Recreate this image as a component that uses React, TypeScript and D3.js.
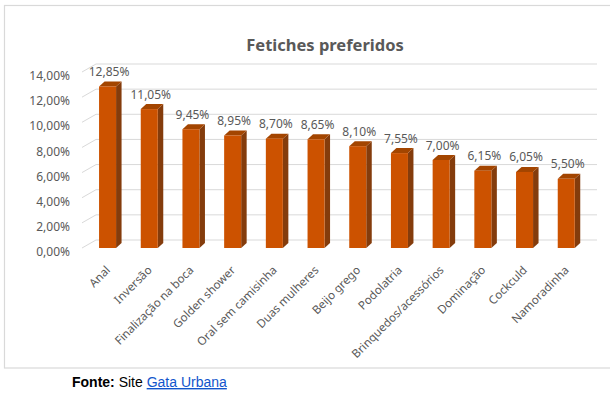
import React from "react";
import * as d3 from "d3";

const categories = [
  "Anal",
  "Inversão",
  "Finalização na boca",
  "Golden shower",
  "Oral sem camisinha",
  "Duas mulheres",
  "Beijo grego",
  "Podolatria",
  "Brinquedos/acessórios",
  "Dominação",
  "Cockculd",
  "Namoradinha",
];
const values = [12.85, 11.05, 9.45, 8.95, 8.7, 8.65, 8.1, 7.55, 7.0, 6.15, 6.05, 5.5];
const yTicks = [0, 2, 4, 6, 8, 10, 12, 14];
const title = "Fetiches preferidos";

const W = 610;
const H = 396;
const fmt = (v: number) => v.toFixed(2).replace(".", ",") + "%";

export default function App() {
  const y = d3.scaleLinear().domain([0, 14]).range([248, 72]);
  const x = d3
    .scaleBand<string>()
    .domain(categories)
    .range([78.2, 595.6])
    .paddingInner(0.592)
    .paddingOuter(0.5);
  const wallDx = 14;
  const wallDy = -8;
  const gridX0 = 82;
  const gridX1 = 597;
  const depthX = 5.5;
  const depthY = -5;
  const bw = x.bandwidth();
  const font = "'Noto Sans', 'Open Sans', sans-serif";
  const textColor = "#595959";

  return (
    <svg
      width={W}
      height={H}
      style={{ position: "fixed", left: 0, top: 0, background: "#fff" }}
    >
      <rect x={4.5} y={5.5} width={620} height={362.5} fill="#fff" stroke="#d9d9d9" strokeWidth={1.2} />
      <text
        x={325}
        y={51}
        textAnchor="middle"
        fontFamily={font}
        fontWeight="bold"
        fontSize={16.5}
        fill={textColor}
      >
        {title}
      </text>
      {yTicks.map((t) => {
        const yf = y(t);
        return (
          <g key={t}>
            <path
              d={`M${gridX0},${yf} L${gridX0 + wallDx},${yf + wallDy} L${gridX1},${yf + wallDy}`}
              fill="none"
              stroke="#d9d9d9"
              strokeWidth={1}
            />
            <text
              x={70}
              y={yf + 4}
              dy="0.35em"
              textAnchor="end"
              fontFamily={font}
              fontSize={12}
              fill={textColor}
            >
              {fmt(t)}
            </text>
          </g>
        );
      })}
      {categories.map((c, i) => {
        const x0 = x(c)!;
        const x1 = x0 + bw;
        const yt = y(values[i]);
        const yb = y(0);
        return (
          <g key={c}>
            <path
              d={`M${x1},${yt} L${x1 + depthX},${yt + depthY} L${x1 + depthX},${yb + depthY} L${x1},${yb} Z`}
              fill="#843c0c"
            />
            <path
              d={`M${x0},${yt} L${x0 + depthX},${yt + depthY} L${x1 + depthX},${yt + depthY} L${x1},${yt} Z`}
              fill="#a34500"
            />
            <rect x={x0} y={yt} width={bw} height={yb - yt} fill="#cc5200" />
            <text
              x={x0 + bw / 2 + 1.5}
              y={yt - 10.5}
              textAnchor="middle"
              fontFamily={font}
              fontSize={12}
              fill={textColor}
            >
              {fmt(values[i])}
            </text>
            <text
              transform={`translate(${x0 + bw / 2 + 0.5},${268}) rotate(-45)`}
              textAnchor="end"
              dy="0.35em"
              fontFamily={font}
              fontSize={11.6}
              fill={textColor}
            >
              {c}
            </text>
          </g>
        );
      })}
      <text x={72} y={387} fontFamily="'Liberation Sans', Arial, sans-serif" fontSize={14} fill="#000">
        <tspan fontWeight="bold">Fonte:</tspan>
        <tspan> Site </tspan>
        <tspan fill="#1155cc" textDecoration="underline">
          Gata Urbana
        </tspan>
      </text>
    </svg>
  );
}
